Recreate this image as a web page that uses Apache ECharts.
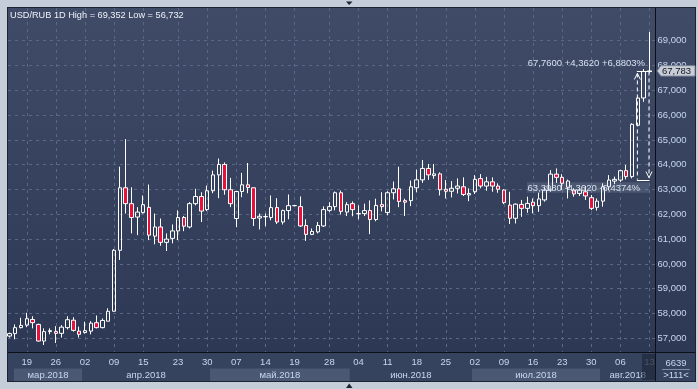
<!DOCTYPE html>
<html><head><meta charset="utf-8">
<script src="https://cdn.jsdelivr.net/npm/echarts@6/dist/echarts.min.js"></script>
<style>html,body{margin:0;padding:0;background:#c5cdd9;}#c{width:698px;height:389px;}</style>
</head><body><div id="c"></div><script>
// ---- data ----
const titleText = 'USD/RUB 1D High = 69,352 Low = 56,732';
const extraDays = ['2018-04-15', '2018-05-19'];
const dates = (function () {
  const out = []; const d = new Date(Date.UTC(2018, 2, 14)); const end = Date.UTC(2018, 7, 13);
  while (d.getTime() <= end) {
    const s = d.toISOString().slice(0, 10); const wd = d.getUTCDay();
    if ((wd >= 1 && wd <= 5) || extraDays.includes(s)) out.push(s);
    d.setUTCDate(d.getUTCDate() + 1);
  }
  return out;
})();
const opens = [57.09,57.19,57.43,57.53,57.76,57.56,56.89,57.27,57.27,57.20,
57.43,57.73,57.29,57.23,57.29,57.63,57.43,57.69,58.09,60.55,
63.07,62.43,61.89,62.07,62.28,61.12,61.49,60.87,61.03,61.33,
61.87,61.49,62.43,62.72,62.19,62.95,63.59,64.01,62.99,61.83,
62.92,63.19,63.07,61.85,61.90,61.87,62.27,61.69,62.15,62.35,
62.31,61.55,61.19,61.29,61.53,62.16,62.31,62.87,62.09,62.43,
62.02,62.03,62.15,61.79,62.39,62.07,62.87,63.03,62.55,62.55,
63.07,63.39,63.85,63.56,63.63,63.01,62.93,63.05,63.11,62.78,
62.91,63.44,63.14,63.31,63.14,62.98,62.37,61.84,62.40,62.24,
62.49,62.35,62.58,62.98,63.62,63.49,63.09,62.98,62.84,62.91,
62.67,62.28,62.53,63.11,63.34,63.38,63.76,63.52,65.59,66.69,
67.76];
const closes = [57.19,57.43,57.52,57.79,57.63,56.89,57.27,57.31,57.20,57.45,
57.75,57.32,57.16,57.31,57.61,57.43,57.72,58.09,60.55,63.07,
62.43,61.87,62.09,62.39,61.16,61.49,60.87,61.00,61.33,61.87,
61.52,62.43,62.72,62.13,62.95,63.59,64.01,62.99,62.43,62.92,
63.19,63.08,61.83,61.92,61.91,62.27,61.69,62.15,62.35,62.35,
61.53,61.19,61.31,61.55,62.19,62.31,62.87,62.12,62.39,62.19,
62.03,62.15,61.79,62.36,62.31,62.87,63.03,62.52,62.49,63.11,
63.39,63.85,63.59,63.63,62.99,62.93,63.05,63.14,62.80,62.84,
63.41,63.14,63.31,63.14,63.01,62.47,61.84,62.41,62.24,62.44,
62.35,62.62,62.98,63.62,63.49,63.25,63.34,62.82,62.98,62.74,
62.24,62.53,63.11,63.38,63.41,63.76,63.52,65.63,66.69,67.76,
67.783];
const lows = [57.03,56.96,57.40,57.45,57.40,56.87,56.732,57.16,56.81,57.03,
57.36,57.27,57.03,57.19,57.16,57.40,57.40,57.69,58.09,60.16,
62.03,61.23,61.16,62.03,60.96,60.79,60.73,60.52,60.83,60.96,
61.32,61.43,62.36,61.69,62.13,62.85,62.65,62.79,62.29,61.49,
62.69,62.85,61.53,61.39,61.52,61.76,61.61,61.59,61.80,62.33,
61.49,60.93,61.16,61.23,61.49,62.09,62.16,61.99,61.93,61.92,
61.80,61.93,61.20,61.72,62.12,61.96,62.60,62.29,61.93,62.33,
62.89,63.27,63.39,63.43,62.76,62.64,62.68,62.84,62.74,62.53,
62.82,63.05,62.95,62.91,62.87,62.41,61.61,61.63,61.90,62.06,
62.04,62.10,62.51,62.91,63.27,62.98,62.64,62.71,62.74,62.58,
62.17,62.15,62.31,62.98,63.22,63.31,63.41,63.45,65.56,66.54,
67.70];
const highs = [57.23,57.56,57.83,58.03,57.89,57.59,57.40,57.40,57.49,57.53,
57.89,57.85,57.47,57.67,57.69,57.92,57.80,58.21,60.60,63.92,
65.03,63.09,62.29,62.76,63.20,62.03,61.83,61.23,61.59,62.16,
61.93,62.49,63.03,62.89,63.16,63.76,64.25,64.09,63.47,62.92,
63.67,64.07,63.07,62.03,62.03,62.76,62.65,62.19,62.80,62.36,
62.72,61.80,61.43,61.69,62.32,62.49,62.92,62.96,62.49,62.52,
62.36,62.43,62.56,62.63,62.89,62.93,63.32,63.92,62.63,63.36,
63.80,64.19,64.03,64.03,63.69,63.38,63.34,63.45,63.49,63.05,
63.58,63.62,63.51,63.49,63.25,63.01,62.91,62.44,62.58,62.71,
62.64,62.87,63.11,63.78,63.85,63.62,63.40,63.05,63.05,63.14,
62.78,62.64,63.25,63.58,63.52,63.79,63.99,65.67,66.74,67.86,
69.352];
const labelDates = ['2018-03-19','2018-03-26','2018-04-02','2018-04-09','2018-04-15','2018-04-23','2018-04-30',
'2018-05-07','2018-05-14','2018-05-19','2018-05-28','2018-06-04','2018-06-11','2018-06-18','2018-06-25',
'2018-07-02','2018-07-09','2018-07-16','2018-07-23','2018-07-30','2018-08-06','2018-08-13'];
const monthNames = ['янв','фев','мар','апр','май','июн','июл','авг','сен','окт','ноя','дек'];
const yTicks = [57,58,59,60,61,62,63,64,65,66,67,68,69];
const lastPrice = 67.783;
const measureFrom = {date: '2018-08-09', value: 63.398};
const measureTo = {date: '2018-08-13', value: 67.760};
const barsVisible = '>111<';
const counterText = '6639';

// ---- layout ----
const PL = 8, PR = 655.5, PT = 8, PB = 352, RB = 695, BB = 381;
const yMin = 56.448, yMax = 70.319;
const FONT = '"Liberation Sans", Arial, sans-serif';
const fmt3 = v => v.toFixed(3).replace('.', ',');
const fmt4 = v => v.toFixed(4).replace('.', ',');
const labelSet = new Set(labelDates);
const lastDate = dates[dates.length - 1];

const chart = echarts.init(document.getElementById('c'), null, {renderer: 'canvas'});
const gridLine = {show: true, lineStyle: {type: [3, 4], color: '#5a6885', width: 1}};
chart.setOption({
  animation: false,
  backgroundColor: '#c5cdd9',
  grid: [
    {left: PL, top: PT, width: PR - PL, height: PB - PT},
    {left: 9.3, top: PT, width: 640.2, height: PB - PT}
  ],
  xAxis: [
    {gridIndex: 0, type: 'value', min: 0, max: 1, show: false},
    {gridIndex: 1, type: 'category', data: dates, boundaryGap: false,
     axisLine: {show: false}, axisTick: {show: false},
     axisLabel: {interval: (i, v) => labelSet.has(v), formatter: v => v.slice(8, 10),
       margin: 5, fontSize: 9.5, fontFamily: FONT,
       color: v => v === lastDate ? '#8796ae' : '#c6d7ee'},
     splitLine: Object.assign({interval: (i, v) => labelSet.has(v)}, gridLine)}
  ],
  yAxis: [
    {gridIndex: 0, type: 'value', position: 'right', min: yMin, max: yMax,
     axisLine: {show: false}, axisTick: {show: false, customValues: yTicks},
     axisLabel: {customValues: yTicks, formatter: fmt3, margin: 2, fontSize: 9.5, fontFamily: FONT, color: '#c6d7ee'},
     splitLine: gridLine},
    {gridIndex: 1, type: 'value', min: yMin, max: yMax, show: false}
  ],
  series: [{
    type: 'candlestick', xAxisIndex: 1, yAxisIndex: 1, clip: false, barWidth: 4,
    data: opens.map((o, i) => [o, closes[i], lows[i], highs[i]]),
    itemStyle: {color: 'rgba(0,0,0,0)', color0: '#e8113c', borderColor: '#ffffff', borderColor0: '#ffffff',
      borderColorDoji: '#ffffff', borderWidth: 1}
  }]
});

// ---- decorations placed through the chart's scales ----
const px = (d, v) => chart.convertToPixel({xAxisIndex: 1, yAxisIndex: 1}, [d, v]);
const xOf = i => chart.convertToPixel({xAxisIndex: 1}, i);
const yOf = v => chart.convertToPixel({yAxisIndex: 1}, v);
const g = [];
const grad = {type: 'linear', x: 0, y: 0, x2: 0, y2: 1, colorStops: [{offset: 0, color: '#3f4b67'}, {offset: 1, color: '#2c3854'}]};
g.push({type: 'rect', z: -100, shape: {x: PL - 1, y: PT - 1, width: RB - PL + 2, height: BB - PT + 2}, style: {fill: '#1c2333'}});
g.push({type: 'rect', z: -99, shape: {x: PL, y: PT, width: PR - PL, height: PB - PT}, style: {fill: grad}});
g.push({type: 'rect', z: -99, shape: {x: PR + 0.5, y: PT, width: RB - PR - 0.5, height: PB - PT}, style: {fill: grad}});
g.push({type: 'rect', z: -99, shape: {x: PL, y: PB + 1, width: RB - PL, height: BB - PB - 1}, style: {fill: '#36435f'}});
// month bands
const months = [];
dates.forEach((d, i) => {
  const m = +d.slice(5, 7) - 1;
  if (!months.length || months[months.length - 1].m !== m) months.push({m: m, y: d.slice(0, 4), s: i, e: i});
  else months[months.length - 1].e = i;
});
months.forEach((mo, k) => {
  const x0 = Math.max(k === 0 ? xOf(0) + 4.7 : (xOf(mo.s) + xOf(mo.s - 1)) / 2, PL);
  const x1 = Math.min(k === months.length - 1 ? PR : (xOf(mo.e) + xOf(mo.e + 1)) / 2, PR);
  if (k % 2 === 0) g.push({type: 'rect', z: -98, shape: {x: x0, y: 368.5, width: x1 - x0, height: BB - 368.5}, style: {fill: '#4a5874'}});
  g.push({type: 'text', z: 10, x: (x0 + x1) / 2, y: 375, style: {text: monthNames[mo.m] + '.' + mo.y, fill: '#c6d7ee',
    font: '9.5px ' + FONT, align: 'center', verticalAlign: 'middle'}});
});
// last-day column shade
const xl = xOf(dates.length - 1);
g.push({type: 'rect', z: 20, shape: {x: xl - 7.5, y: PB + 2, width: PR - xl + 7, height: BB - PB - 3}, style: {fill: 'rgba(24,31,48,0.55)'}});
// separators
g.push({type: 'line', z: 30, shape: {x1: PR, y1: PT, x2: PR, y2: BB}, style: {stroke: '#0c0f16', lineWidth: 1}});
g.push({type: 'line', z: 30, shape: {x1: PL, y1: PB + 0.5, x2: RB, y2: PB + 0.5}, style: {stroke: '#0c0f16', lineWidth: 1}});
// title
g.push({type: 'text', z: 40, x: 10, y: 15, style: {text: titleText, fill: '#eef2f8', font: '9.2px ' + FONT, verticalAlign: 'middle'}});
// bottom-right cell
g.push({type: 'text', z: 40, x: 676, y: 363, style: {text: counterText, fill: '#c6d7ee', font: '9.5px ' + FONT, align: 'center', verticalAlign: 'middle'}});
g.push({type: 'line', z: 40, shape: {x1: 662, y1: 369.5, x2: 690, y2: 369.5}, style: {stroke: '#8090a8', lineWidth: 1}});
g.push({type: 'text', z: 40, x: 676, y: 375, style: {text: barsVisible, fill: '#c6d7ee', font: '9.5px ' + FONT, align: 'center', verticalAlign: 'middle'}});
// measurement tool
const a = px(measureFrom.date, measureFrom.value), b = px(measureTo.date, measureTo.value);
const xa = xOf(dates.indexOf('2018-08-09')), xb = xOf(dates.indexOf('2018-08-13'));
const yTop = b[1], yBot = a[1];
const diff = measureTo.value - measureFrom.value;
g.push({type: 'line', z: 50, shape: {x1: xa - 0.5, y1: yTop + 2, x2: xa - 0.5, y2: yBot}, style: {stroke: '#ffffff', lineWidth: 1, lineDash: [4, 3]}});
g.push({type: 'line', z: 50, shape: {x1: xb - 0.5, y1: yTop, x2: xb - 0.5, y2: yBot - 2}, style: {stroke: '#ffffff', lineWidth: 1, lineDash: [4, 3]}});
g.push({type: 'line', z: 50, shape: {x1: xa - 1, y1: Math.round(yTop) + 0.5, x2: xb + 2.5, y2: Math.round(yTop) + 0.5}, style: {stroke: '#ffffff', lineWidth: 1}});
g.push({type: 'line', z: 50, shape: {x1: xa - 1, y1: Math.round(yBot) + 0.5, x2: xb, y2: Math.round(yBot) + 0.5}, style: {stroke: '#ffffff', lineWidth: 1}});
g.push({type: 'polyline', z: 50, shape: {points: [[xa - 3.5, yTop + 8], [xa - 0.5, yTop + 2], [xa + 2.5, yTop + 8]]}, style: {stroke: '#ffffff', lineWidth: 1, fill: null}});
g.push({type: 'polyline', z: 50, shape: {points: [[xb - 3.5, yBot - 8], [xb - 0.5, yBot - 2], [xb + 2.5, yBot - 8]]}, style: {stroke: '#ffffff', lineWidth: 1, fill: null}});
g.push({type: 'text', z: 50, x: xb - 4.5, y: yTop - 7.7, style: {text: fmt4(measureTo.value) + ' +' + fmt4(diff) + ' +' + fmt4(diff / measureFrom.value * 100) + '%',
  fill: '#d5e0ee', font: '9.5px ' + FONT, align: 'right', verticalAlign: 'middle'}});
g.push({type: 'rect', z: 49, shape: {x: 527, y: yBot + 2.5, width: xb - 527, height: 10.5}, style: {fill: 'rgba(190,200,215,0.16)'}});
g.push({type: 'text', z: 50, x: xb - 9.5, y: yBot + 8.5, style: {text: fmt4(measureFrom.value) + ' -' + fmt4(diff) + ' -' + fmt4(diff / measureTo.value * 100) + '%',
  fill: '#d5e0ee', font: '9.5px ' + FONT, align: 'right', verticalAlign: 'middle'}});
// last price tag
const yp = yOf(lastPrice);
g.push({type: 'polygon', z: 60, shape: {points: [[657, yp], [661, yp - 5.2], [RB, yp - 5.2], [RB, yp + 5.2], [661, yp + 5.2]]},
  style: {fill: '#c9cdd5', stroke: '#7d8597', lineWidth: 1}});
g.push({type: 'text', z: 61, x: 662, y: yp + 0.5, style: {text: fmt3(lastPrice), fill: '#0e1522', font: '9.5px ' + FONT, verticalAlign: 'middle'}});
// scroll markers
g.push({type: 'polygon', z: 60, shape: {points: [[346, 1.5], [352.5, 1.5], [349.25, 5]]}, style: {fill: '#1c2333'}});
g.push({type: 'polygon', z: 60, shape: {points: [[346, 388], [352.5, 388], [349.25, 383.5]]}, style: {fill: '#1c2333'}});
chart.setOption({graphic: {elements: g}});
</script></body></html>
